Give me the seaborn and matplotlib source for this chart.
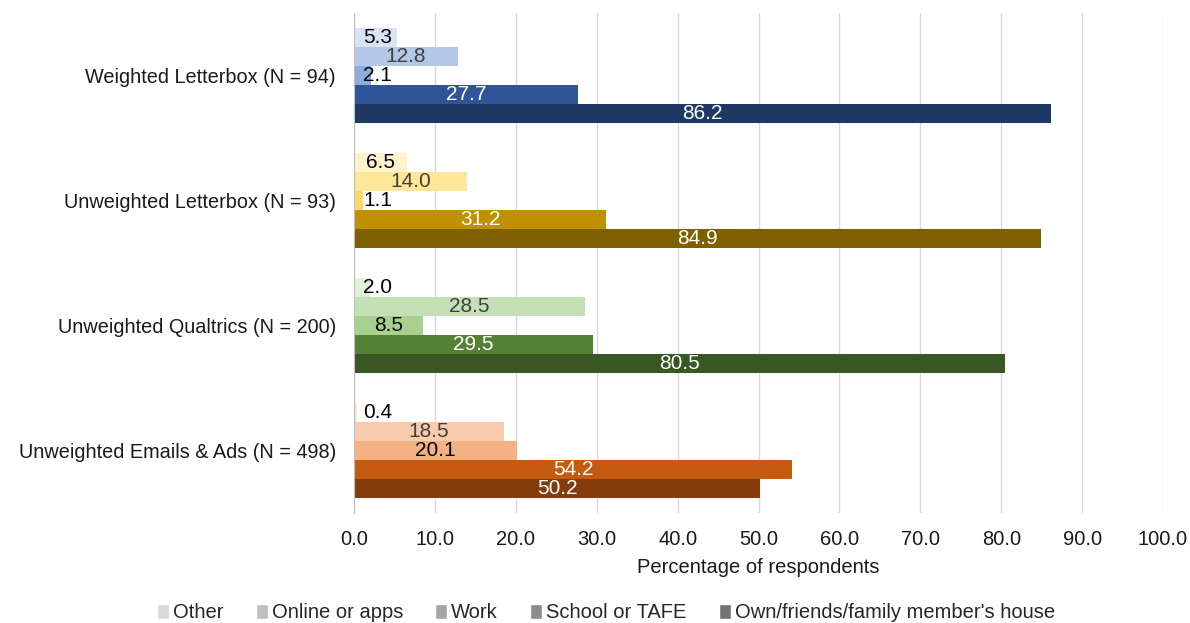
import pandas as pd
import numpy as np
import matplotlib
matplotlib.use('Agg')
import matplotlib.pyplot as plt
import seaborn as sns

groups = ['Weighted Letterbox (N = 94)', 'Unweighted Letterbox (N = 93)',
          'Unweighted Qualtrics (N = 200)', 'Unweighted Emails & Ads (N = 498)']
locations = ['Other', 'Online or apps', 'Work', 'School or TAFE',
             "Own/friends/family member's house"]

# values per location, in group order
other = [5.3, 6.5, 2.0, 0.4]
online = [12.8, 14.0, 28.5, 18.5]
work = [2.1, 1.1, 8.5, 20.1]
school = [27.7, 31.2, 29.5, 54.2]
own_house = [86.2, 84.9, 80.5, 50.2]

legend_grays = ['#d9d9d9', '#bfbfbf', '#a6a6a6', '#8c8c8c', '#737373']
group_colors = [
    ['#dae3f3', '#b4c7e7', '#8faadc', '#2f5597', '#203864'],
    ['#fff2cc', '#ffe699', '#ffd966', '#bf9000', '#7f6000'],
    ['#e2f0d9', '#c5e0b4', '#a9d18e', '#548235', '#385723'],
    ['#fbe5d6', '#f8cbad', '#f4b183', '#c55a11', '#843c0c'],
]
label_colors = ['black', '#404040', 'black', 'white', 'white']

rows = []
for loc, vals in zip(locations, [other, online, work, school, own_house]):
    for g, v in zip(groups, vals):
        rows.append({'group': g, 'location': loc, 'value': v})
df = pd.DataFrame(rows)

sns.set_style('white')
plt.rcParams['font.family'] = ['Liberation Sans', 'DejaVu Sans']

fig = plt.figure(figsize=(11.9, 6.23), dpi=100)
ax = fig.add_axes([354 / 1190, 1 - 513 / 623, (1163 - 354) / 1190, 500 / 623])

sns.barplot(data=df, x='value', y='group', hue='location', order=groups,
            hue_order=locations, palette=legend_grays, orient='h',
            width=0.76, ax=ax, legend=True)

for i, cont in enumerate(ax.containers):
    for j, bar in enumerate(cont.patches):
        bar.set_facecolor(group_colors[j][i])
        bar.set_edgecolor('none')
        w = bar.get_width()
        ax.text(max(w / 2, 2.9), bar.get_y() + bar.get_height() / 2, f'{w:.1f}',
                ha='center', va='center', fontsize=15, color=label_colors[i])

ax.set_xlim(0, 100)
ax.set_ylim(3.5, -0.5)
ax.set_xticks(np.arange(0, 101, 10))
ax.set_xticklabels([f'{t:.1f}' for t in np.arange(0, 101, 10)])
ax.xaxis.grid(True, color='#d9d9d9', linewidth=1)
ax.set_axisbelow(True)
for s in ['top', 'right', 'bottom']:
    ax.spines[s].set_visible(False)
ax.spines['left'].set_color('#bfbfbf')
ax.tick_params(axis='y', length=0, pad=13, labelsize=14.3, labelcolor='#1a1a1a')
ax.tick_params(axis='x', length=0, pad=12, labelsize=14.5, labelcolor='#1a1a1a')
ax.set_ylabel('')
ax.set_xlabel('Percentage of respondents', fontsize=14.5, color='#1a1a1a', labelpad=7)

handles, labels = ax.get_legend_handles_labels()
ax.get_legend().remove()
fig.legend(handles, labels, loc='center', bbox_to_anchor=(606 / 1190, 1 - 613 / 623),
           ncol=5, frameon=False, fontsize=14.5, handlelength=0.6, handleheight=0.7,
           handletextpad=0.2, columnspacing=1.6)

fig.savefig('out.png', dpi=100)
